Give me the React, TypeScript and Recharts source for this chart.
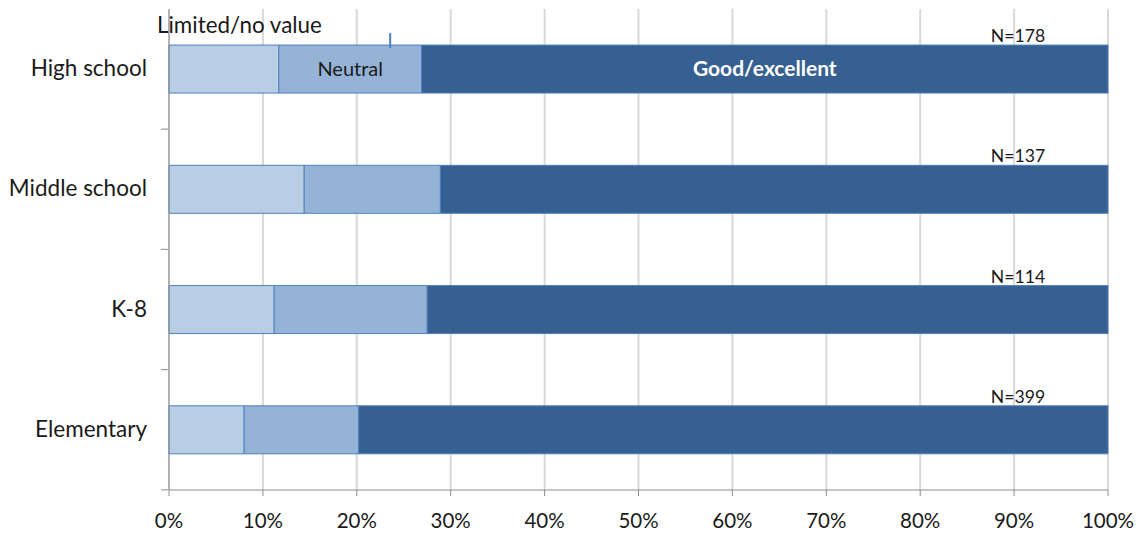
import React from "react";
import {
  BarChart,
  Bar,
  XAxis,
  YAxis,
  CartesianGrid,
  LabelList,
} from "recharts";

const categories = ["High school", "Middle school", "K-8", "Elementary"];
const limitedValues = [11.7, 14.4, 11.2, 8.0];
const neutralValues = [15.2, 14.5, 16.3, 12.2];
const goodValues = [73.1, 71.1, 72.5, 79.8];
const sampleSizes = ["N=178", "N=137", "N=114", "N=399"];
const xTicks = [0, 10, 20, 30, 40, 50, 60, 70, 80, 90, 100];

const data = categories.map((name, i) => ({
  name,
  limited: limitedValues[i],
  neutral: neutralValues[i],
  good: goodValues[i],
  n: sampleSizes[i],
}));

const FONT = "Lato, 'Open Sans', sans-serif";
const TEXT = "#1a1a1a";

function CategoryTick(props: any) {
  const { x, y, payload } = props;
  return (
    <g>
      <text x={x - 14} y={y} dy={7} textAnchor="end" fontSize={22.5} fill={TEXT} fontFamily={FONT}>
        {payload.value}
      </text>
      <line x1={x} x2={x + 7} y1={y + 60} y2={y + 60} stroke="#8c8c8c" />
    </g>
  );
}

function LimitedLabel(props: any) {
  const { x, y, index } = props;
  if (index !== 0) return null;
  return (
    <text x={x - 12} y={y - 12} fontSize={22.4} fill={TEXT} fontFamily={FONT}>
      Limited/no value
    </text>
  );
}

function NeutralLabel(props: any) {
  const { x, y, width, height, index } = props;
  if (index !== 0) return null;
  return (
    <g>
      <line x1={x + width * 0.78} x2={x + width * 0.78} y1={y - 12} y2={y + 3} stroke="#4F81BD" strokeWidth={2} />
      <text x={x + width / 2} y={y + height / 2} dy={7} textAnchor="middle" fontSize={20} fill={TEXT} fontFamily={FONT}>
        Neutral
      </text>
    </g>
  );
}

function GoodLabel(props: any) {
  const { x, y, width, height, index } = props;
  if (index !== 0) return null;
  return (
    <text x={x + width / 2} y={y + height / 2} dy={7} textAnchor="middle" fontSize={21} fontWeight="bold" fill="#ffffff" fontFamily={FONT}>
      Good/excellent
    </text>
  );
}

function SampleLabel(props: any) {
  const { x, y, width, value } = props;
  return (
    <text x={x + width - 90} y={y - 3} textAnchor="middle" fontSize={17.6} fill={TEXT} fontFamily={FONT}>
      {value}
    </text>
  );
}

export default function App() {
  return (
    <div style={{ position: "absolute", left: 0, top: 0, background: "#fff" }}>
      <BarChart
        width={1143}
        height={533}
        data={data}
        layout="vertical"
        barCategoryGap="30%"
        margin={{ top: 9, right: 35, left: 0, bottom: 0 }}
      >
        <CartesianGrid horizontal={false} stroke="#d9d9d9" strokeWidth={2} />
        <XAxis
          type="number"
          domain={[0, 100]}
          ticks={xTicks}
          tickFormatter={(v: number) => `${v}%`}
          height={43}
          axisLine={{ stroke: "#8c8c8c" }}
          tickLine={{ stroke: "#8c8c8c" }}
          tickSize={6}
          tickMargin={17}
          tick={{ fontSize: 20.5, fill: TEXT, fontFamily: FONT }}
          interval={0}
        />
        <YAxis
          type="category"
          dataKey="name"
          width={169}
          axisLine={{ stroke: "#8c8c8c" }}
          tickLine={false}
          tick={<CategoryTick />}
          interval={0}
        />
        <Bar dataKey="limited" stackId="a" fill="#B9CDE5" stroke="#4F81BD" strokeWidth={1} isAnimationActive={false}>
          <LabelList dataKey="limited" content={<LimitedLabel />} />
        </Bar>
        <Bar dataKey="neutral" stackId="a" fill="#95B3D7" stroke="#4F81BD" strokeWidth={1} isAnimationActive={false}>
          <LabelList dataKey="neutral" content={<NeutralLabel />} />
        </Bar>
        <Bar dataKey="good" stackId="a" fill="#366092" stroke="#4F81BD" strokeWidth={1} isAnimationActive={false}>
          <LabelList dataKey="good" content={<GoodLabel />} />
          <LabelList dataKey="n" content={<SampleLabel />} />
        </Bar>
      </BarChart>
    </div>
  );
}
